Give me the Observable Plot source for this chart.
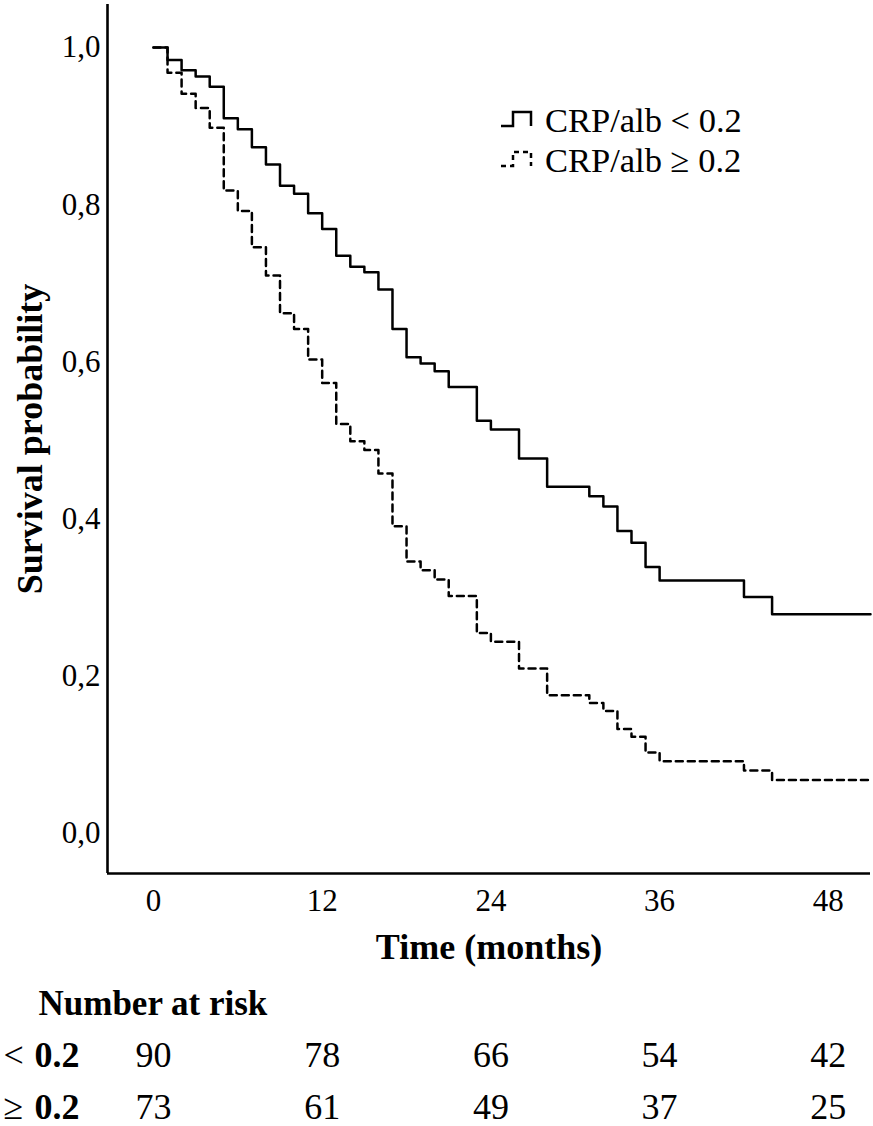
<!DOCTYPE html>
<html>
<head>
<meta charset="utf-8">
<script src="https://cdn.jsdelivr.net/npm/d3@7"></script>
<script src="https://cdn.jsdelivr.net/npm/@observablehq/plot@0.6"></script>
<style>
  html, body { margin: 0; padding: 0; background: #fff; }
  #wrap { position: relative; width: 873px; height: 1126px; font-family: "Liberation Serif", "Times New Roman", serif; }
  #legend { position: absolute; left: 0; top: 0; pointer-events: none; }
</style>
</head>
<body>
<div id="wrap">
  <div id="main"></div>
  <div id="risk"></div>
  <svg id="legend" width="873" height="200" font-family="Liberation Serif, Times New Roman, serif" font-size="34.5">
    <path d="M501,126 H513 V112 H531 V126" fill="none" stroke="#000" stroke-width="2.5"></path>
    <text x="545" y="132">CRP/alb &lt; 0.2</text>
    <path d="M501,166 H513 V152 H531 V166" fill="none" stroke="#000" stroke-width="2.5" stroke-dasharray="5,4"></path>
    <text x="545" y="172">CRP/alb ≥ 0.2</text>
  </svg>
</div>
<script>
// Data read from the Kaplan–Meier chart
const times = [0,1,2,3,4,5,6,7,8,9,10,11,12,13,14,15,16,17,18,19,20,21,23,24,26,28,31,32,33,34,35,36,42,44,51];
const survLow = [1.0,0.984,0.971,0.963,0.950,0.910,0.896,0.873,0.851,0.824,0.814,0.789,0.769,0.735,0.721,0.714,0.692,0.642,0.606,0.598,0.588,0.568,0.525,0.514,0.477,0.441,0.429,0.416,0.385,0.370,0.339,0.322,0.301,0.279,0.279];
const survHigh = [1.0,0.968,0.941,0.923,0.898,0.818,0.792,0.746,0.710,0.662,0.642,0.603,0.573,0.521,0.499,0.488,0.458,0.391,0.346,0.335,0.323,0.302,0.255,0.244,0.210,0.176,0.166,0.156,0.133,0.123,0.103,0.092,0.080,0.068,0.068];

const xTicks = [0, 12, 24, 36, 48];
const yTicks = [0, 0.2, 0.4, 0.6, 0.8, 1.0];

const riskGroups = ["< 0.2", "≥ 0.2"];
const riskLow = [90, 78, 66, 54, 42];
const riskHigh = [73, 61, 49, 37, 25];

const xDomain = [-3.27, 51.0];
const yDomain = [-0.0509, 1.0547];
const font = "Liberation Serif, Times New Roman, serif";

const lowData = times.map((t, i) => ({t, s: survLow[i]}));
const highData = times.map((t, i) => ({t, s: survHigh[i]}));

const main = Plot.plot({
  width: 873,
  height: 975,
  marginLeft: 107,
  marginRight: 3,
  marginTop: 4,
  marginBottom: 102,
  style: {fontFamily: font, background: "#fff", color: "#000"},
  x: {domain: xDomain, label: null},
  y: {domain: yDomain, label: null},
  marks: [
    Plot.axisX({ticks: xTicks, tickSize: 0, tickPadding: 15, fontSize: 31, label: null, tickFormat: d => String(d)}),
    Plot.axisY({ticks: yTicks, tickSize: 0, tickPadding: 7, fontSize: 31, label: null, tickFormat: d => d.toFixed(1).replace(".", ",")}),
    Plot.ruleX([xDomain[0]], {stroke: "#000", strokeWidth: 2.6}),
    Plot.ruleY([yDomain[0]], {stroke: "#000", strokeWidth: 2.6}),
    Plot.line(highData, {x: "t", y: "s", curve: "step-after", stroke: "#000", strokeWidth: 2.5, strokeDasharray: "7,5"}),
    Plot.line(lowData, {x: "t", y: "s", curve: "step-after", stroke: "#000", strokeWidth: 2.5}),
    Plot.text(["Survival probability"], {frameAnchor: "left", dx: -77, rotate: -90, textAnchor: "middle", lineAnchor: "middle", fontSize: 36, fontWeight: "bold", fill: "#000"}),
    Plot.text(["Time (months)"], {frameAnchor: "bottom", dy: 74, textAnchor: "middle", lineAnchor: "middle", fontSize: 36, fontWeight: "bold", fill: "#000"})
  ]
});
document.getElementById("main").appendChild(main);

const riskRows = [];
xTicks.forEach((t, i) => {
  riskRows.push({t, g: riskGroups[0], n: riskLow[i]});
  riskRows.push({t, g: riskGroups[1], n: riskHigh[i]});
});

const risk = Plot.plot({
  width: 873,
  height: 151,
  marginLeft: 107,
  marginRight: 3,
  marginTop: 0,
  marginBottom: 0,
  style: {fontFamily: font, background: "#fff", color: "#000"},
  x: {domain: xDomain, axis: null},
  y: {type: "point", domain: ["header", ...riskGroups], range: [28, 132], padding: 0, axis: null},
  marks: [
    Plot.text(["Number at risk"], {x: xDomain[0], y: () => "header", dx: -69, textAnchor: "start", lineAnchor: "middle", fontSize: 35, fontWeight: "bold", fill: "#000"}),
    Plot.text(riskGroups, {x: xDomain[0], y: d => d, text: d => d.slice(0, 1), dx: -104, textAnchor: "start", lineAnchor: "middle", fontSize: 36, fill: "#000"}),
    Plot.text(riskGroups, {x: xDomain[0], y: d => d, text: d => d.slice(2), dx: -73, textAnchor: "start", lineAnchor: "middle", fontSize: 36, fontWeight: "bold", fill: "#000"}),
    Plot.text(riskRows, {x: "t", y: "g", text: d => String(d.n), lineAnchor: "middle", fontSize: 36, fill: "#000"})
  ]
});
document.getElementById("risk").appendChild(risk);
</script>
</body>
</html>
